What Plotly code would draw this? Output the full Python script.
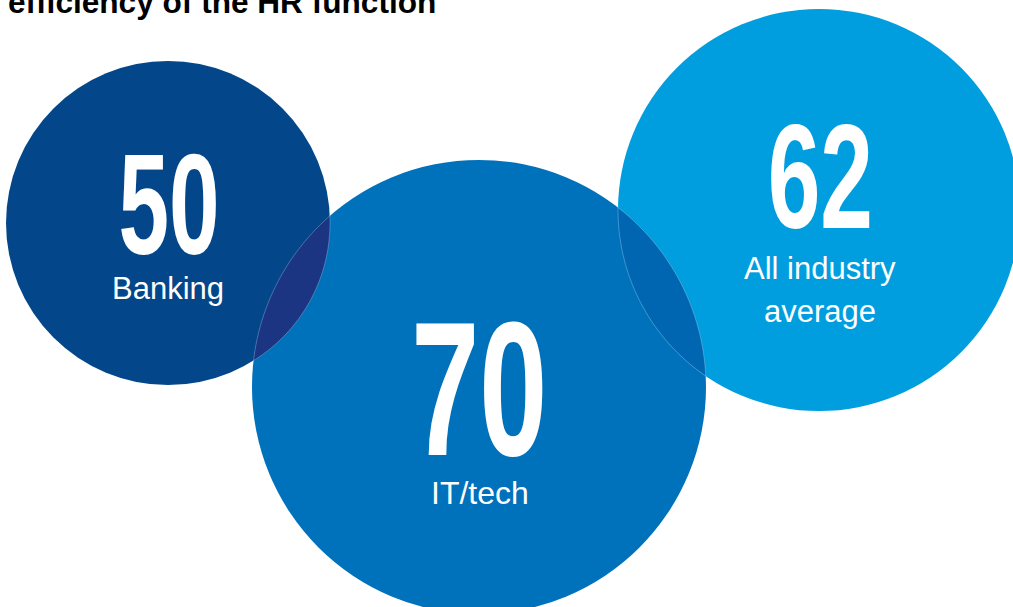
import numpy as np
import plotly.graph_objects as go

# Scores on the efficiency of the HR function, by sector
categories = ["Banking", "IT/tech", "All industry\naverage"]
scores = [50, 70, 62]
title_text = "efficiency of the HR function"

# Canvas and circle layout (pixel space, y grows downwards)
W, H = 1013, 607
centers = [(168, 223), (479, 387), (819, 210)]
radii = [162, 227, 201]
fills = ["#03478a", "#0071bb", "#009ede"]
overlaps = [(0, 1, "#1c3582"), (1, 2, "#0066b2")]

number_pos = [(169, 204), (479, 388), (820, 176)]
number_size = [142, 191, 148]
label_pos = [(168, 288), (480, 493), (820, 268)]
label_size = [31, 32, 31]
label_gap = 43


def lens_path(c1, r1, c2, r2, n=80):
    """Polygon outline of the region shared by two circles."""
    c1, c2 = np.array(c1, float), np.array(c2, float)
    d = np.linalg.norm(c2 - c1)
    t0 = np.arctan2(*(c2 - c1)[::-1])
    p0 = np.arctan2(*(c1 - c2)[::-1])
    a1 = np.arccos((d**2 + r1**2 - r2**2) / (2 * d * r1))
    a2 = np.arccos((d**2 + r2**2 - r1**2) / (2 * d * r2))
    t = np.linspace(t0 - a1, t0 + a1, n)
    arc1 = np.c_[c1[0] + r1 * np.cos(t), c1[1] + r1 * np.sin(t)]
    p = np.linspace(p0 - a2, p0 + a2, n)
    arc2 = np.c_[c2[0] + r2 * np.cos(p), c2[1] + r2 * np.sin(p)]
    if np.linalg.norm(arc2[0] - arc1[-1]) > np.linalg.norm(arc2[-1] - arc1[-1]):
        arc2 = arc2[::-1]
    pts = np.vstack([arc1, arc2])
    return "M " + " L ".join(f"{x:.2f},{y:.2f}" for x, y in pts) + " Z"


fig = go.Figure()
fig.add_trace(go.Scatter(x=[0, W], y=[0, H], mode="markers",
                         marker=dict(opacity=0), hoverinfo="skip", showlegend=False))

shapes = []
for (cx, cy), r, col in zip(centers, radii, fills):
    shapes.append(dict(type="circle", xref="x", yref="y",
                       x0=cx - r, x1=cx + r, y0=cy - r, y1=cy + r,
                       fillcolor=col, line=dict(width=0), layer="below"))
for i, j, col in overlaps:
    shapes.append(dict(type="path", xref="x", yref="y",
                       path=lens_path(centers[i], radii[i], centers[j], radii[j]),
                       fillcolor=col, line=dict(color="rgba(255,255,255,0.35)", width=0.7),
                       layer="below"))

annotations = []
font_family = "Liberation Sans, Arial, sans-serif"
for val, lab, (nx, ny), ns, (lx, ly), ls in zip(scores, categories, number_pos,
                                                number_size, label_pos, label_size):
    annotations.append(dict(x=nx, y=ny, xref="x", yref="y", text=f"<b>{val}</b>",
                            showarrow=False, xanchor="center", yanchor="middle",
                            font=dict(family=font_family, size=ns, color="white")))
    for k, line in enumerate(lab.split("\n")):
        annotations.append(dict(x=lx, y=ly + k * label_gap, xref="x", yref="y",
                                text=line, showarrow=False,
                                xanchor="center", yanchor="middle",
                                font=dict(family=font_family, size=ls, color="white")))

# Heading, partly running off the top edge
annotations.append(dict(x=6 / W, y=1 + 18 / H, xref="paper", yref="paper",
                        text=f"<b>{title_text}</b>",
                        showarrow=False, xanchor="left", yanchor="top",
                        font=dict(family=font_family, size=31.6, color="black")))

fig.update_layout(
    width=W, height=H, margin=dict(l=0, r=0, t=0, b=0),
    paper_bgcolor="white", plot_bgcolor="white",
    xaxis=dict(range=[0, W], visible=False, fixedrange=True),
    yaxis=dict(range=[H, 0], visible=False, fixedrange=True),
    shapes=shapes, annotations=annotations, showlegend=False,
)

# Condense the large numerals horizontally
squeeze_js = """
var gd = document.getElementById('{plot_id}');
function squeeze(){
  gd.querySelectorAll('text.annotation-text').forEach(function(t){
    if (parseFloat(t.style.fontSize || '0') > 100){
      t.style.transformBox = 'fill-box';
      t.style.transformOrigin = '50% 50%';
      t.style.transform = 'scaleX(0.64)';
    }
  });
}
squeeze();
gd.on('plotly_afterplot', squeeze);
"""

fig.write_html("out.html", config={"displayModeBar": False}, post_script=squeeze_js)
